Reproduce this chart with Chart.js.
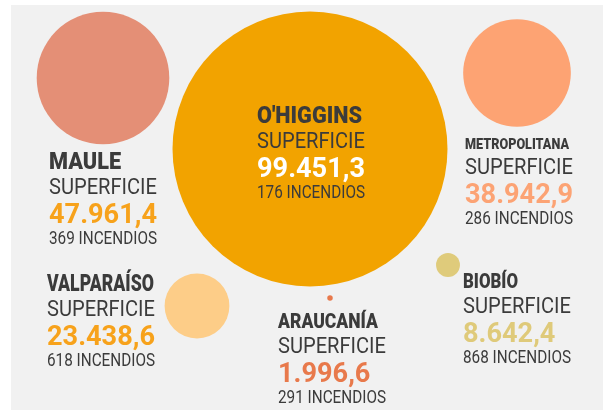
<!DOCTYPE html>
<html>
<head>
<meta charset="utf-8">
<script src="https://cdn.jsdelivr.net/npm/chart.js@4.4.1/dist/chart.umd.min.js"></script>
<style>
  html, body { margin: 0; padding: 0; background: #ffffff; }
  #wrap { width: 612px; height: 414px; }
</style>
</head>
<body>
<div id="wrap"><canvas id="chart" width="612" height="414"></canvas></div>
<script>
// data
const regions = ["MAULE", "O'HIGGINS", "METROPOLITANA", "VALPARAÍSO", "ARAUCANÍA", "BIOBÍO"];
const superficie = [47961.4, 99451.3, 38942.9, 23438.6, 1996.6, 8642.4];
const incendios = [369, 176, 286, 618, 291, 868];

// layout: bubble centres and text anchors in the 612x414 scale space
const bubbleX = [103, 310, 517, 197, 330, 448];
const bubbleY = [78, 149, 73, 306, 298, 265];
const textX = [49, 257, 465, 47, 278, 463];
const textY = [169, 123, 149, 291, 328, 288];
const nameSize = [24, 24.5, 14.5, 23.5, 21, 21];
const nameWidth = [72, 105, 104, 107, 100, 55];

const bubbleColors = ["#e48f76", "#f2a300", "#fda373", "#fdcd88", "#e8794b", "#dfcb7b"];
const valueColors = ["#f7a21b", "#ffffff", "#fca374", "#f7a21b", "#e8794b", "#dfca7a"];
const ink = "#3b3b3b";
const maxRadius = 137.5;

const FONT = "Roboto, 'Liberation Sans', sans-serif";
const lineStyles = {
  label: { weight: 400, size: 22.5, sample: "SUPERFICIE", width: 108, dy: 25 },
  value: { weight: 700, size: 28, sample: "47.961,4", width: 108, dy: 54 },
  count: { weight: 400, size: 18, sample: "369 INCENDIOS", width: 108, dy: 75 }
};

function fmt(v) {
  const parts = v.toFixed(1).split(".");
  const int = parts[0].replace(/\B(?=(\d{3})+(?!\d))/g, ".");
  return int + "," + parts[1];
}

function drawSqueezed(ctx, text, x, y, sx) {
  ctx.save();
  ctx.translate(x, y);
  ctx.scale(sx, 1);
  ctx.fillText(text, 0, 0);
  ctx.restore();
}

const backdrop = {
  id: "backdrop",
  beforeDraw(chart) {
    const ctx = chart.ctx;
    ctx.save();
    ctx.fillStyle = "#ffffff";
    ctx.fillRect(0, 0, chart.width, chart.height);
    ctx.fillStyle = "#f1f1f1";
    ctx.fillRect(11, 5, 592, 405);
    ctx.restore();
  }
};

const labels = {
  id: "labels",
  afterDatasetsDraw(chart) {
    const ctx = chart.ctx;
    const xs = chart.scales.x;
    const ys = chart.scales.y;
    ctx.save();
    ctx.textBaseline = "alphabetic";
    ctx.textAlign = "left";

    // horizontal squeeze per style, calibrated on a sample line
    const squeeze = {};
    for (const k in lineStyles) {
      const s = lineStyles[k];
      ctx.font = s.weight + " " + s.size + "px " + FONT;
      squeeze[k] = s.width / ctx.measureText(s.sample).width;
    }

    regions.forEach((name, i) => {
      const x = xs.getPixelForValue(textX[i]);
      const y = ys.getPixelForValue(textY[i]);

      ctx.fillStyle = ink;
      ctx.font = "900 " + nameSize[i] + "px " + FONT;
      drawSqueezed(ctx, name, x, y, nameWidth[i] / ctx.measureText(name).width);

      const lines = [
        ["label", "SUPERFICIE", ink],
        ["value", fmt(superficie[i]), valueColors[i]],
        ["count", incendios[i] + " INCENDIOS", ink]
      ];
      lines.forEach(([k, txt, col]) => {
        const s = lineStyles[k];
        ctx.font = s.weight + " " + s.size + "px " + FONT;
        ctx.fillStyle = col;
        drawSqueezed(ctx, txt, x, y + s.dy, squeeze[k]);
      });
    });
    ctx.restore();
  }
};

function build() {
  const maxVal = Math.max(...superficie);
  const points = regions.map((r, i) => ({
    x: bubbleX[i],
    y: bubbleY[i],
    r: superficie[i] / maxVal * maxRadius
  }));

  new Chart(document.getElementById("chart").getContext("2d"), {
    type: "bubble",
    data: {
      labels: regions,
      datasets: [{
        data: points,
        backgroundColor: bubbleColors,
        borderWidth: 0,
        hoverBorderWidth: 0
      }]
    },
    options: {
      responsive: false,
      animation: false,
      layout: { padding: 0, autoPadding: false },
      clip: false,
      scales: {
        x: { type: "linear", min: 0, max: 612, display: false },
        y: { type: "linear", min: 0, max: 414, reverse: true, display: false }
      },
      plugins: {
        legend: { display: false },
        tooltip: { enabled: false }
      }
    },
    plugins: [backdrop, labels]
  });
}

if (document.fonts && document.fonts.load) {
  Promise.all([
    document.fonts.load("900 20px Roboto"),
    document.fonts.load("700 20px Roboto"),
    document.fonts.load("400 20px Roboto")
  ]).then(build, build);
} else {
  build();
}
</script>
</body>
</html>
